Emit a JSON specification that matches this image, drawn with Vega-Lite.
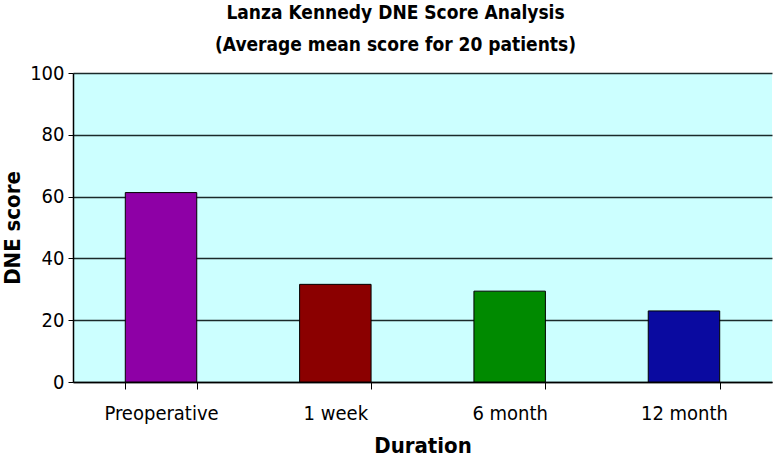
{
  "$schema": "https://vega.github.io/schema/vega-lite/v6.json",
  "autosize": "none",
  "width": 699,
  "height": 309,
  "padding": {"left": 73, "top": 73, "right": 2, "bottom": 80},
  "background": "white",
  "title": {
    "text": ["Lanza Kennedy DNE Score Analysis", "(Average mean score for 20 patients)"],
    "font": "Liberation Sans Narrow, DejaVu Sans Condensed, Liberation Sans",
    "fontSize": 19,
    "fontWeight": "bold",
    "color": "black",
    "lineHeight": 32,
    "offset": 8,
    "dx": -27
  },
  "config": {
    "view": {"fill": "#CCFFFF", "stroke": null},
    "font": "Liberation Sans Narrow, DejaVu Sans Condensed, Liberation Sans"
  },
  "data": {
    "values": [
      {"Duration": "Preoperative", "score": 61.3, "c": "#8E00A6"},
      {"Duration": "1 week", "score": 31.6, "c": "#8B0000"},
      {"Duration": "6 month", "score": 29.4, "c": "#008A00"},
      {"Duration": "12 month", "score": 23.0, "c": "#0A0AA0"}
    ]
  },
  "mark": {"type": "bar", "stroke": "black", "strokeWidth": 1},
  "encoding": {
    "x": {
      "field": "Duration",
      "type": "nominal",
      "sort": null,
      "scale": {"paddingInner": 0.59, "paddingOuter": 0.3},
      "axis": {
        "title": "Duration",
        "titleFontSize": 22,
        "titleFontWeight": "bold",
        "titleColor": "black",
        "titlePadding": 12,
        "labelAngle": 0,
        "labelFontSize": 20,
        "labelColor": "black",
        "labelPadding": 14,
        "domainColor": "black",
        "domainWidth": 1.5,
        "tickColor": "black",
        "tickSize": 7,
        "tickBand": "extent",
        "grid": false
      }
    },
    "y": {
      "field": "score",
      "type": "quantitative",
      "scale": {"domain": [0, 100]},
      "axis": {
        "title": "DNE score",
        "titleFontSize": 22,
        "titleFontWeight": "bold",
        "titleColor": "black",
        "titlePadding": 5,
        "values": [0, 20, 40, 60, 80, 100],
        "labelFontSize": 20,
        "labelColor": "black",
        "labelPadding": 4,
        "domainColor": "black",
        "domainWidth": 1.5,
        "tickColor": "black",
        "tickSize": 5,
        "gridColor": "#1a2a2a",
        "gridWidth": 1.5
      }
    },
    "color": {"field": "c", "type": "nominal", "scale": null, "legend": null}
  }
}
